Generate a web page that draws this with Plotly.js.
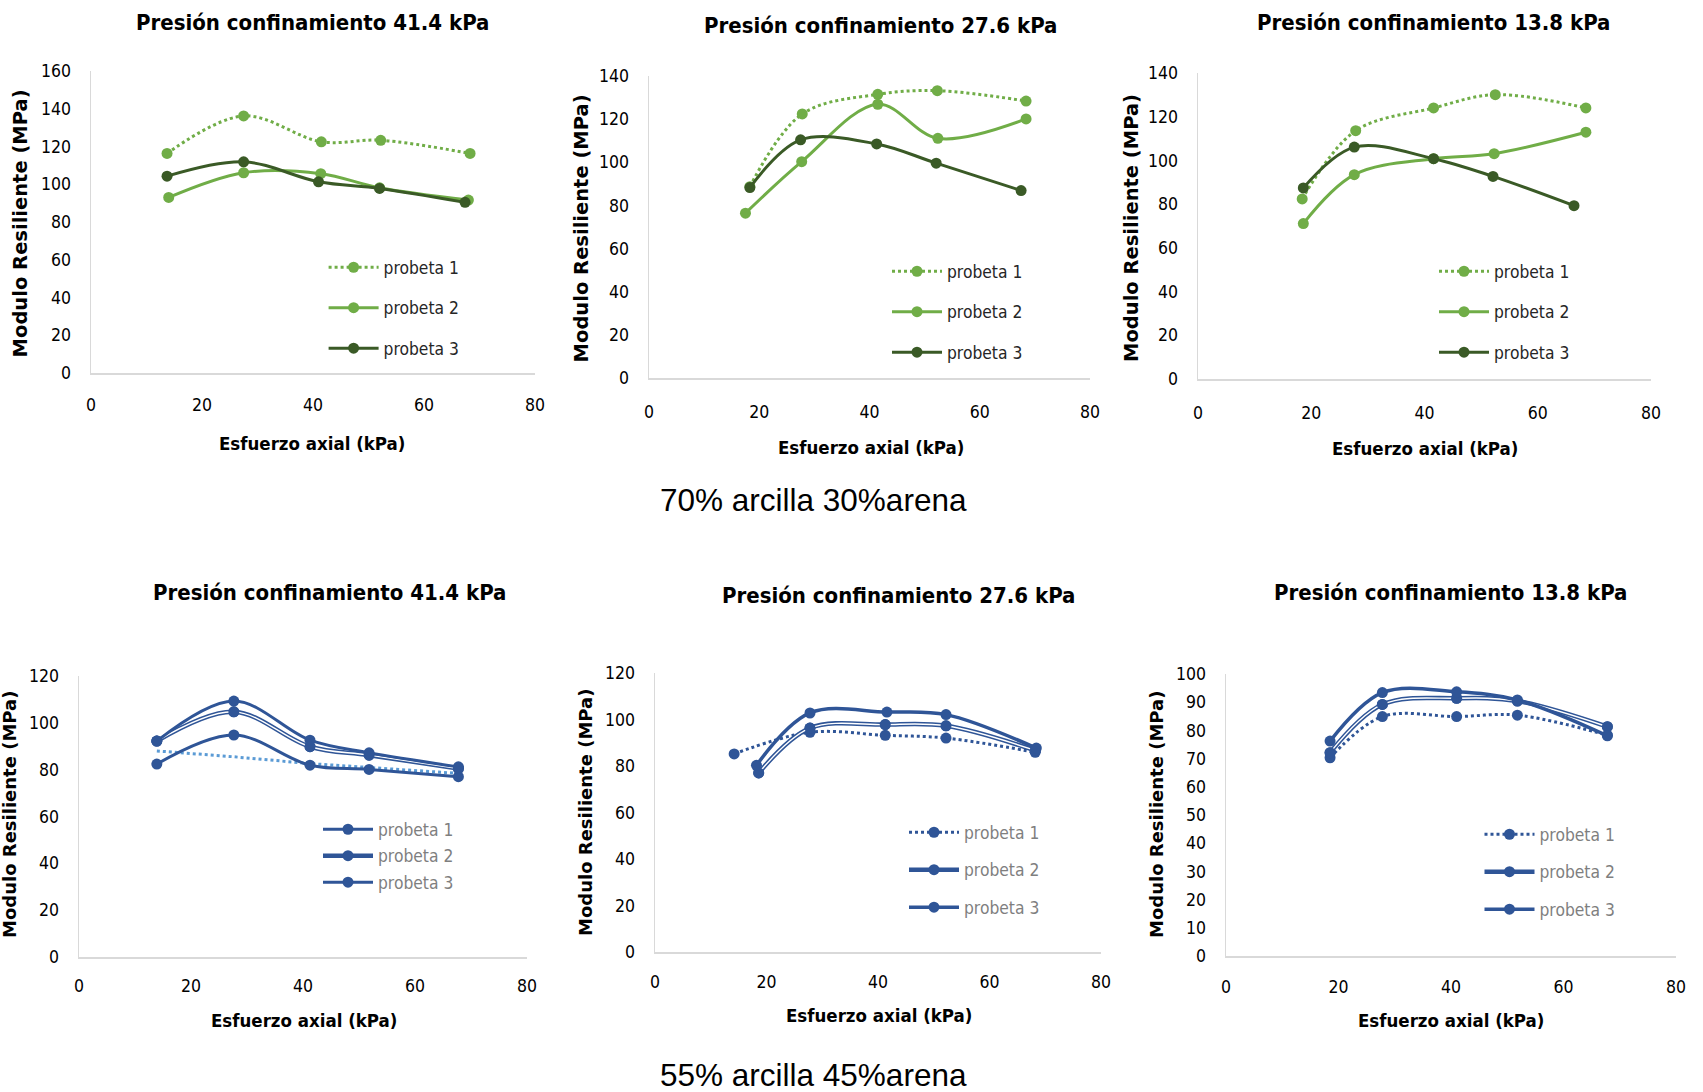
<!DOCTYPE html>
<html><head><meta charset="utf-8">
<script src="https://cdn.plot.ly/plotly-3.0.1.min.js"></script>
<style>html,body{margin:0;padding:0;background:#fff;}#chart{width:1703px;height:1092px;}</style>
</head><body><div id="chart"></div>
<script>
// ---------------- DATA ----------------
const seriesNames = ['probeta 1', 'probeta 2', 'probeta 3'];
const mixLabels = ['70% arcilla 30%arena', '55% arcilla 45%arena'];
const panelTitles = ['Presión confinamiento 41.4 kPa', 'Presión confinamiento 27.6 kPa', 'Presión confinamiento 13.8 kPa'];
const xTitle = 'Esfuerzo axial (kPa)';
const yTitle = 'Modulo Resiliente (MPa)';

// 70% arcilla 30% arena — confinement 41.4 kPa
const a414_p1_x = [13.7, 27.5, 41.5, 52.2, 68.3];
const a414_p1_y = [116.3, 136.2, 122.5, 123.3, 116.3];
const a414_p2_x = [14.0, 27.5, 41.4, 52.0, 68.0];
const a414_p2_y = [93.0, 106.1, 105.6, 98.1, 91.6];
const a414_p3_x = [13.7, 27.5, 41.0, 52.0, 67.4];
const a414_p3_y = [104.3, 111.9, 101.3, 97.8, 90.4];
// 70/30 — 27.6 kPa
const a276_p1_x = [18.3, 27.8, 41.5, 52.3, 68.4];
const a276_p1_y = [88.7, 122.4, 131.5, 133.2, 128.4];
const a276_p2_x = [17.5, 27.7, 41.5, 52.4, 68.4];
const a276_p2_y = [76.4, 100.3, 126.9, 111.1, 120.1];
const a276_p3_x = [18.3, 27.5, 41.3, 52.1, 67.5];
const a276_p3_y = [88.3, 110.4, 108.5, 99.6, 86.9];
// 70/30 — 13.8 kPa
const a138_p1_x = [18.4, 27.85, 41.6, 52.5, 68.5];
const a138_p1_y = [82.4, 113.6, 124.0, 130.1, 124.0];
const a138_p2_x = [18.6, 27.6, 41.6, 52.3, 68.5];
const a138_p2_y = [71.1, 93.5, 100.8, 103.1, 112.9];
const a138_p3_x = [18.6, 27.6, 41.6, 52.1, 66.4];
const a138_p3_y = [87.4, 106.1, 100.8, 92.7, 79.3];

// 55% arcilla 45% arena — 41.4 kPa
const b414_x = [13.9, 27.65, 41.25, 51.8, 67.75];
const b414_p1_y = [82.4, 94.8, 81.9, 80.1, 77.0];
const b414_p2_y = [92.2, 104.7, 89.8, 86.2, 80.5];
const b414_p3_y = [92.2, 109.3, 92.6, 87.2, 81.2];
const b414_trend_y = [88.0, 85.5, 82.6, 80.9, 78.4];
// 55/45 — 27.6 kPa
const b276_p1_x = [14.2, 27.8, 41.3, 52.2, 68.2];
const b276_p1_y = [85.2, 94.5, 93.2, 92.0, 85.9];
const b276_p2_x = [18.6, 27.8, 41.3, 52.2, 68.2];
const b276_p2_y = [77.0, 96.3, 97.8, 97.3, 86.7];
const b276_p3_x = [18.2, 27.8, 41.6, 52.2, 68.4];
const b276_p3_y = [80.3, 102.8, 103.2, 102.1, 87.7];
// 55/45 — 13.8 kPa
const b138_x = [18.5, 27.8, 41.0, 51.8, 67.8];
const b138_p1_y = [70.3, 84.9, 84.9, 85.4, 78.3];
const b138_p2_y = [72.1, 89.2, 91.4, 90.4, 81.3];
const b138_p3_y = [76.2, 93.4, 93.7, 90.8, 78.1];

// ---------------- STYLE / LAYOUT ----------------
const W = 1703, H = 1092;
const NARROW = '"DejaVu Sans Condensed", "Liberation Sans", sans-serif';
const WIDE = '"DejaVu Sans", Verdana, sans-serif';
const ARIAL = '"Liberation Sans", Arial, sans-serif';
const LIGHT_GREEN = '#70AD47', DARK_GREEN = '#3A5A26', BLUE = '#2F5597', LIGHT_BLUE = '#5B9BD5';
const px = p => p / W, py = p => 1 - p / H;

const panels = [
  {box:[91,535,71,373], yr:[0,160], dy:20, title:panelTitles[0], tpos:[312.5,22], yt:[21.4,223,19.5], xt:[311.6,443], xtl:15, leg:[323.6,249.5,15], legColor:'#262626'},
  {box:[649,1090,76,378], yr:[0,140], dy:20, title:panelTitles[1], tpos:[880.5,25], yt:[581.4,228,19.5], xt:[870.7,447], xtl:17, leg:[887,253.5,15], legColor:'#262626'},
  {box:[1198,1651,73,379], yr:[0,140], dy:20, title:panelTitles[2], tpos:[1433,22], yt:[1131,228,19.5], xt:[1425.4,448], xtl:17, leg:[1434,253.5,15], legColor:'#262626'},
  {box:[79,527,676,957], yr:[0,120], dy:20, title:panelTitles[0], tpos:[329.5,592], yt:[9,815,18], xt:[303.6,1020], xtl:12, leg:[318,811.5,1], legColor:'#7f7f7f'},
  {box:[655,1101,673,952], yr:[0,120], dy:20, title:panelTitles[1], tpos:[898.4,595], yt:[585,813,18], xt:[878.8,1015], xtl:13, leg:[904,814.5,12], legColor:'#7f7f7f'},
  {box:[1226,1676,674,956], yr:[0,100], dy:10, title:panelTitles[2], tpos:[1450,592], yt:[1156,815,18], xt:[1450.5,1020], xtl:14, leg:[1479.5,816.5,12], legColor:'#7f7f7f'}
];

const traces = [];
function add(panelIdx, name, x, y, opts) {
  const n = panelIdx + 1;
  traces.push({
    type:'scatter', x:x, y:y, name:name,
    xaxis: n === 1 ? 'x' : 'x' + n, yaxis: n === 1 ? 'y' : 'y' + n,
    legend: n === 1 ? 'legend' : 'legend' + n,
    legendgroup: 'g' + n + '_' + name,
    mode: opts.mode || 'lines+markers',
    line: {color: opts.color, width: opts.width || 3, dash: opts.dash || 'solid', shape: opts.shape || 'spline', smoothing: 1},
    marker: {color: opts.mcolor || opts.color, size: opts.msize || 11},
    showlegend: opts.showlegend !== false,
    hoverinfo: 'skip'
  });
}
// 70/30 panels
add(0, seriesNames[0], a414_p1_x, a414_p1_y, {color:LIGHT_GREEN, dash:'dot'});
add(0, seriesNames[1], a414_p2_x, a414_p2_y, {color:LIGHT_GREEN});
add(0, seriesNames[2], a414_p3_x, a414_p3_y, {color:DARK_GREEN});
add(1, seriesNames[0], a276_p1_x, a276_p1_y, {color:LIGHT_GREEN, dash:'dot'});
add(1, seriesNames[1], a276_p2_x, a276_p2_y, {color:LIGHT_GREEN});
add(1, seriesNames[2], a276_p3_x, a276_p3_y, {color:DARK_GREEN});
add(2, seriesNames[0], a138_p1_x, a138_p1_y, {color:LIGHT_GREEN, dash:'dot'});
add(2, seriesNames[1], a138_p2_x, a138_p2_y, {color:LIGHT_GREEN});
add(2, seriesNames[2], a138_p3_x, a138_p3_y, {color:DARK_GREEN});
// double-line helper (compound line like Excel)
function addDouble(panelIdx, name, x, y) {
  add(panelIdx, name, x, y, {color:BLUE, width:4.5});
  add(panelIdx, name, x, y, {color:'#ffffff', width:1.4, mode:'lines', showlegend:false});
  add(panelIdx, name, x, y, {color:BLUE, mode:'markers', showlegend:false});
}
// 55/45 panels
add(3, 'tendencia', b414_x, b414_trend_y, {color:LIGHT_BLUE, dash:'dot', mode:'lines', shape:'linear', showlegend:false});
add(3, seriesNames[0], b414_x, b414_p1_y, {color:BLUE});
addDouble(3, seriesNames[1], b414_x, b414_p2_y);
add(3, seriesNames[2], b414_x, b414_p3_y, {color:BLUE});
add(4, seriesNames[0], b276_p1_x, b276_p1_y, {color:BLUE, dash:'dot'});
addDouble(4, seriesNames[1], b276_p2_x, b276_p2_y);
add(4, seriesNames[2], b276_p3_x, b276_p3_y, {color:BLUE, width:3.5});
add(5, seriesNames[0], b138_x, b138_p1_y, {color:BLUE, dash:'dot'});
addDouble(5, seriesNames[1], b138_x, b138_p2_y);
add(5, seriesNames[2], b138_x, b138_p3_y, {color:BLUE, width:3.5});

const layout = {
  width: W, height: H, margin: {l:0, r:0, t:0, b:0},
  paper_bgcolor: '#ffffff', plot_bgcolor: 'rgba(0,0,0,0)',
  annotations: [], hovermode: false
};
const tickFont = {family: NARROW, size: 17.5, color: '#000'};
panels.forEach((p, i) => {
  const n = i + 1, sx = n === 1 ? '' : n;
  layout['xaxis' + sx] = {
    domain: [px(p.box[0]), px(p.box[1])], anchor: 'y' + sx, range: [0, 80], dtick: 20, tick0: 0,
    showline: true, linecolor: '#d9d9d9', linewidth: 1.5, showgrid: false, zeroline: false,
    ticks: 'outside', ticklen: p.xtl, tickcolor: 'rgba(0,0,0,0)', tickfont: tickFont, fixedrange: true
  };
  layout['yaxis' + sx] = {
    domain: [py(p.box[3]), py(p.box[2])], anchor: 'x' + sx, range: p.yr, dtick: p.dy, tick0: 0,
    showline: true, linecolor: '#d9d9d9', linewidth: 1.5, showgrid: false, zeroline: false,
    ticks: 'outside', ticklen: 15, tickcolor: 'rgba(0,0,0,0)', tickfont: tickFont, fixedrange: true
  };
  layout[n === 1 ? 'legend' : 'legend' + n] = {
    x: px(p.leg[0]), y: py(p.leg[1]), xanchor: 'left', yanchor: 'top',
    bgcolor: 'rgba(0,0,0,0)', borderwidth: 0, itemwidth: 50,
    traceorder: 'grouped', tracegroupgap: p.leg[2],
    font: {family: NARROW, size: 17.3, color: p.legColor}, itemclick: false, itemdoubleclick: false
  };
  layout.annotations.push(
    {text: '<b>' + p.title + '</b>', x: px(p.tpos[0]), y: py(p.tpos[1]), xref: 'paper', yref: 'paper',
     xanchor: 'center', yanchor: 'middle', showarrow: false, font: {family: NARROW, size: 22, color: '#000'}},
    {text: '<b>' + xTitle + '</b>', x: px(p.xt[0]), y: py(p.xt[1]), xref: 'paper', yref: 'paper',
     xanchor: 'center', yanchor: 'middle', showarrow: false, font: {family: NARROW, size: 18.5, color: '#000'}},
    {text: '<b>' + yTitle + '</b>', x: px(p.yt[0]), y: py(p.yt[1]), xref: 'paper', yref: 'paper', textangle: -90,
     xanchor: 'center', yanchor: 'middle', showarrow: false, font: {family: WIDE, size: p.yt[2], color: '#000'}}
  );
});
layout.annotations.push(
  {text: mixLabels[0], x: px(813), y: py(500), xref: 'paper', yref: 'paper', xanchor: 'center', yanchor: 'middle',
   showarrow: false, font: {family: ARIAL, size: 31.5, color: '#000'}},
  {text: mixLabels[1], x: px(813), y: py(1075), xref: 'paper', yref: 'paper', xanchor: 'center', yanchor: 'middle',
   showarrow: false, font: {family: ARIAL, size: 31.5, color: '#000'}}
);

Plotly.newPlot('chart', traces, layout, {displayModeBar: false, staticPlot: true});
</script>
</body></html>
